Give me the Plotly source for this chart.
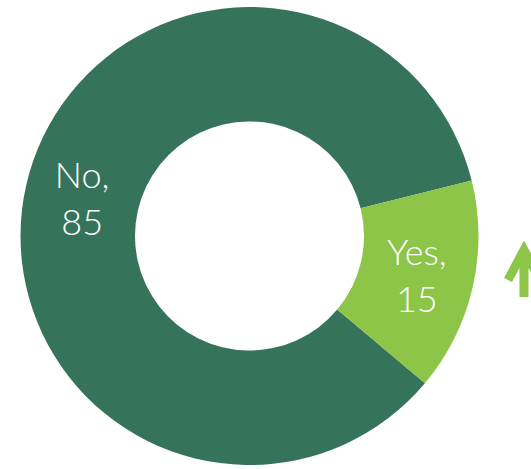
import plotly.graph_objects as go

# Survey answers
labels = ["No", "Yes"]
values = [85, 15]
colors = ["#35745A", "#8DC549"]

W, H = 531, 469

fig = go.Figure(
    go.Pie(
        labels=labels,
        values=values,
        hole=0.5,
        sort=False,
        direction="clockwise",
        rotation=130,
        marker=dict(colors=colors, line=dict(width=0)),
        texttemplate="%{label},<br>%{value}",
        textposition="inside",
        insidetextorientation="horizontal",
        textfont=dict(family="Lato", size=36, color="white", weight=300),
        hoverinfo="label+value",
        domain=dict(x=[20.5 / W, 478.5 / W], y=[4 / H, 462 / H]),
        showlegend=False,
    )
)


def px(x, y):
    return f"{x / W:.4f},{1 - y / H:.4f}"


# Upward arrow on the right edge
arrow_path = (
    f"M {px(524, 297)} L {px(524, 252)} "
    f"M {px(508, 280)} L {px(524, 250)} L {px(540, 280)}"
)
fig.add_shape(
    type="path",
    path=arrow_path,
    xref="paper",
    yref="paper",
    line=dict(color="#8DC549", width=9),
)

fig.update_layout(
    width=W,
    height=H,
    margin=dict(l=0, r=0, t=0, b=0),
    paper_bgcolor="white",
    plot_bgcolor="white",
    uniformtext=dict(minsize=30, mode="show"),
)

fig.write_html("out.html")
